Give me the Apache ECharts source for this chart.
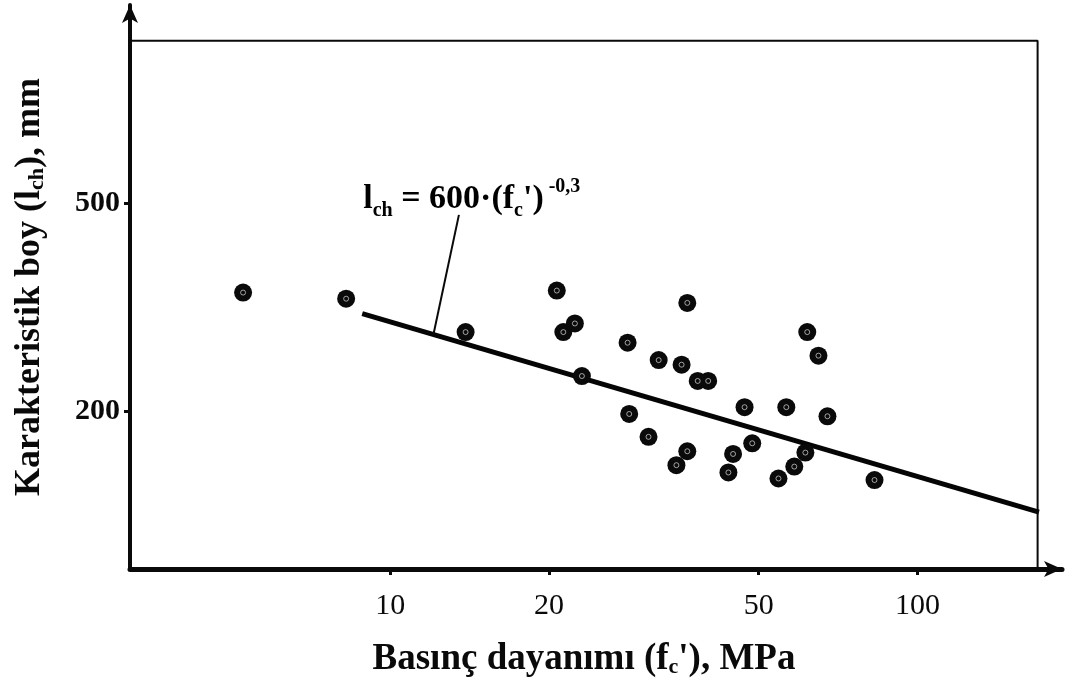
<!DOCTYPE html>
<html><head><meta charset="utf-8">
<script src="https://cdn.jsdelivr.net/npm/echarts@6/dist/echarts.min.js"></script>
<style>html,body{margin:0;padding:0;background:#fff}#c{width:1068px;height:683px}</style>
</head><body><div id="c"></div>
<script>
// compressive strength f'c (MPa)
const strength = [5.26, 8.25, 13.9, 20.7, 21.3, 22.4, 23.1, 28.2, 28.4, 30.9, 32.3, 35.7, 36.6, 34.9, 36.6,
  38.3, 40.1, 43.8, 44.7, 47.0, 48.6, 54.5, 56.4, 58.4, 61.3, 61.8, 64.9, 67.5, 82.9];
// characteristic length l_ch (mm)
const lengths = [338, 329, 284, 341, 284, 295, 234, 271, 198, 179, 251, 246, 323, 158, 168,
  229, 229, 153, 166, 204, 174, 149, 204, 157, 167, 284, 256, 196, 148];
// fitted curve endpoints l_ch = 600 (f'c)^-0.3
const fitX = [8.85, 170];
const fitY = [308, 128.5];
// leader line from equation to curve
const leaderX = [13.5, 12.07];
const leaderY = [476, 280];
// equation label anchor
const eqX = [8.89];
const eqY = [511];
// axis ticks and ranges
const xTicks = [10, 20, 50, 100];
const yTicks = [200, 500];
const xRange = [3.21, 188];
const yRange = [100, 1200];
// frame corner (top/right box edge)
const frameX = [3.21, 169, 169];
const frameY = [1025, 1025, 100];

const zip = (a, b) => a.map((v, i) => [v, b[i]]);
const FF = '"Liberation Serif", "Times New Roman", serif';

const chart = echarts.init(document.getElementById('c'), null, {renderer: 'canvas'});
chart.setOption({
  backgroundColor: '#fff',
  animation: false,
  grid: {left: 130, right: 6, top: 5, bottom: 114, containLabel: false, outerBoundsMode: 'none'},
  xAxis: {
    type: 'log', logBase: 10, min: xRange[0], max: xRange[1],
    name: "Basınç dayanımı (f{s|c}'), MPa",
    nameLocation: 'middle', nameGap: 72,
    nameTextStyle: {
      fontFamily: FF, fontWeight: 'bold', fontSize: 37, color: '#0a0a0a', padding: [0, 24, 0, 0],
      rich: {s: {fontFamily: FF, fontWeight: 'bold', fontSize: 22, color: '#0a0a0a', verticalAlign: 'bottom', lineHeight: 24}}
    },
    axisLine: {show: true, onZero: false, lineStyle: {color: '#0a0a0a', width: 5}, symbol: ['none', 'arrow'], symbolSize: [12, 18]},
    axisTick: {show: true, length: 6, lineStyle: {color: '#0a0a0a', width: 3}, customValues: xTicks},
    minorTick: {show: false},
    axisLabel: {show: true, customValues: xTicks, margin: 22, fontFamily: FF, fontSize: 30, color: '#0a0a0a', formatter: v => String(v)},
    splitLine: {show: false}
  },
  yAxis: {
    type: 'log', logBase: 10, min: yRange[0], max: yRange[1],
    name: 'Karakteristik boy (l{s|ch}), mm',
    nameLocation: 'middle', nameGap: 82, nameRotate: 90,
    nameTextStyle: {
      fontFamily: FF, fontWeight: 'bold', fontSize: 36, color: '#0a0a0a',
      rich: {s: {fontFamily: FF, fontWeight: 'bold', fontSize: 22, color: '#0a0a0a', verticalAlign: 'bottom', lineHeight: 24}}
    },
    axisLine: {show: true, onZero: false, lineStyle: {color: '#0a0a0a', width: 4}, symbol: ['none', 'arrow'], symbolSize: [12, 18]},
    axisTick: {show: true, length: 6, lineStyle: {color: '#0a0a0a', width: 3}, customValues: yTicks},
    axisLabel: {show: true, customValues: yTicks, margin: 10, fontFamily: FF, fontWeight: 'bold', fontSize: 30, color: '#0a0a0a', formatter: v => String(v)},
    splitLine: {show: false}
  },
  series: [
    {type: 'line', data: zip(frameX, frameY), symbol: 'none', lineStyle: {color: '#0a0a0a', width: 2}, silent: true, z: 1},
    {type: 'line', data: zip(fitX, fitY), symbol: 'none', lineStyle: {color: '#050505', width: 5}, silent: true, z: 2},
    {type: 'line', data: zip(leaderX, leaderY), symbol: 'none', lineStyle: {color: '#0a0a0a', width: 2}, silent: true, z: 2},
    {type: 'scatter', data: zip(strength, lengths), symbol: 'circle', symbolSize: 18,
      itemStyle: {color: '#0a0a0a', opacity: 1}, z: 3},
    {type: 'scatter', data: zip(strength, lengths), symbol: 'circle', symbolSize: 5,
      itemStyle: {color: 'rgba(0,0,0,0)', borderColor: 'rgba(255,255,255,0.6)', borderWidth: 1, opacity: 1}, z: 4, silent: true},
    {type: 'scatter', data: zip(eqX, eqY), symbolSize: 0, z: 5, silent: true,
      itemStyle: {opacity: 1},
      label: {
        show: true, position: 'right', distance: 0, opacity: 1,
        formatter: "{m|l}{s|ch}{m| = 600·(f}{s|c}{m|')}{p| -0,3}",
        rich: {
          m: {fontFamily: FF, fontWeight: 'bold', fontSize: 34, color: '#000', lineHeight: 44},
          s: {fontFamily: FF, fontWeight: 'bold', fontSize: 20, color: '#000', lineHeight: 21, verticalAlign: 'bottom'},
          p: {fontFamily: FF, fontWeight: 'bold', fontSize: 20, color: '#000', lineHeight: 21, verticalAlign: 'top'}
        }
      }
    }
  ]
});
</script></body></html>
